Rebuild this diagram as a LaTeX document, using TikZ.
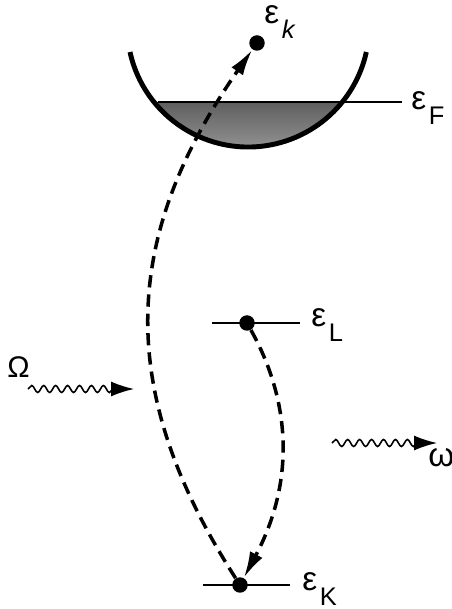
\documentclass[tikz,border=0pt]{standalone}
\usepackage{fontspec}
\setmainfont{Liberation Sans}
\usepackage{tikz}
\usetikzlibrary{arrows.meta,decorations.pathmorphing}
\usepackage{xcolor}
\definecolor{banddark}{RGB}{95,95,95}
\definecolor{bandlight}{RGB}{150,150,150}
\newcommand{\enlev}[1]{\fontsize{19}{21}\selectfont ε\kern1.5pt\raisebox{-8pt}{\fontsize{14.5}{16}\selectfont #1}}

\begin{document}
\begin{tikzpicture}[x=0.02cm,y=0.02cm,
    dot/.style={circle,fill=black,inner sep=0pt,minimum size=0.31cm},
    lvl/.style={line width=1.2pt},
    trans/.style={line width=2pt,dash pattern=on 7pt off 4pt,-{Latex[length=15pt,width=8pt]}},
    photon/.style={line width=0.9pt,decorate,
      decoration={snake,amplitude=2pt,segment length=6.8pt,post length=11pt},
      -{Latex[length=13pt,width=8.5pt]}},
    lab/.style={anchor=base west,inner sep=0pt}]
        \useasboundingbox (0,0) rectangle (452,609);
        \shade[top color=banddark,bottom color=bandlight]
          (153.8,507) arc[start angle=218.9,end angle=321.1,radius=121] -- cycle;
        \draw[lvl] (158,507) -- (402,507);
        \draw[line width=2.8pt] (130,557) arc[start angle=192.4,end angle=347.6,radius=121];
        \node[lab] (tF) at (411,499) {\enlev{F}};
        \node[dot] (Ek) at (257,566) {};
        \node[lab] (tk) at (264,585) {\enlev{\textit{k}}};
        \draw[lvl] (212,286) -- (300,286);
        \node[dot] (EL) at (247,286) {};
        \node[lab] (tL) at (311,282) {\enlev{L}};
        \draw[lvl] (203,24) -- (290,24);
        \node[dot] (EK) at (240,24) {};
        \node[lab] (tK) at (302,18) {\enlev{K}};
        \draw[trans] (EK) .. controls (118,214) and (118,367) .. (Ek);
        \draw[trans] (EL) .. controls (290,209) and (296,129) .. (EK);
        \node[lab] (tOm) at (7,231) {\fontsize{17}{19}\selectfont Ω};
        \coordinate (OmA) at (28,220);
        \coordinate (OmB) at (134,220);
        \draw[photon] (OmA) -- (OmB);
        \coordinate (omA) at (332,166);
        \coordinate (omB) at (437,166);
        \draw[photon] (omA) -- (omB);
        \node[lab] (tom) at (428,142) {\fontsize{19}{21}\selectfont ω};
      \end{tikzpicture}
\end{document}
